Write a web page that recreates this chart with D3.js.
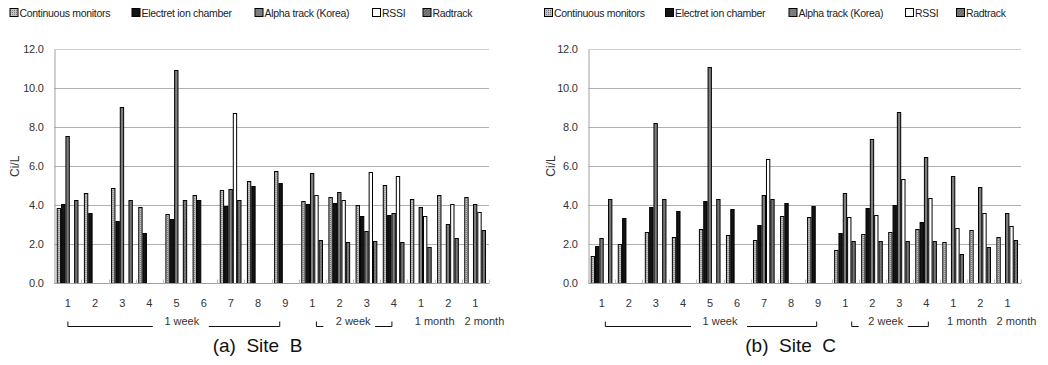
<!DOCTYPE html>
<html>
<head>
<meta charset="utf-8">
<script src="https://cdn.jsdelivr.net/npm/d3@7"></script>
<style>
  body { margin: 0; background: #fff; }
  svg { display: block; font-family: "Liberation Sans", Arial, sans-serif; }
</style>
</head>
<body>
<svg id="chart" width="1048" height="365"></svg>
<script>
// category labels along the x axis (16 measurement slots)
const catLabels = ['1', '2', '3', '4', '5', '6', '7', '8', '9', '1', '2', '3', '4', '1', '2', '1'];
const seriesNames = ['Continuous monitors', 'Electret ion chamber', 'Alpha track (Korea)', 'RSSI', 'Radtrack'];
const yTicks = [0, 2, 4, 6, 8, 10, 12];

// Site B
const siteBCont     = [3.86, 4.62, 4.87, 3.91, 3.56, 4.53, 4.77, 5.26, 5.78, 4.21, 4.43, 4.02, 5.03, 4.31, 4.53, 4.43];
const siteBElectret = [4.07, 3.62, 3.21, 2.56, 3.32, 4.26, 3.97, 4.97, 5.13, 4.07, 4.12, 3.45, 3.50, null, null, null];
const siteBAlpha    = [7.54, null, 9.06, null, 10.92, null, 4.82, null, null, 5.68, 4.67, 2.67, 3.62, 3.90, 3.03, 4.07];
const siteBRssi     = [null, null, null, null, null, null, 8.75, null, null, 4.53, 4.26, 5.73, 5.52, 3.45, 4.07, 3.68];
const siteBRadtrack = [4.26, null, 4.26, null, 4.26, null, 4.26, null, null, 2.21, 2.10, 2.15, 2.10, 1.85, 2.31, 2.72];

// Site C
const siteCCont     = [1.37, 1.99, 2.62, 2.37, 2.74, 2.47, 2.18, 3.41, 3.36, 1.66, 2.52, 2.62, 2.76, 2.07, 2.71, 2.37];
const siteCElectret = [1.89, 3.33, 3.91, 3.67, 4.22, 3.77, 2.95, 4.11, 3.96, 2.57, 3.82, 4.01, 3.12, null, null, null];
const siteCAlpha    = [2.31, null, 8.19, null, 11.11, null, 4.53, null, null, 4.63, 7.39, 8.76, 6.46, 5.47, 4.92, 3.57];
const siteCRssi     = [null, null, null, null, null, null, 6.36, null, null, 3.36, 3.48, 5.31, 4.35, 2.81, 3.57, 2.90];
const siteCRadtrack = [4.30, null, 4.30, null, 4.30, null, 4.30, null, null, 2.13, 2.13, 2.13, 2.13, 1.46, 1.82, 2.18];

const svg = d3.select('#chart');
const defs = svg.append('defs');

// fill patterns for the grey-scale bars
const pCont = defs.append('pattern').attr('id', 'pCont').attr('width', 2).attr('height', 2)
  .attr('patternUnits', 'userSpaceOnUse');
pCont.append('rect').attr('width', 2).attr('height', 2).attr('fill', '#c4c4c4');
pCont.append('rect').attr('width', 1).attr('height', 1).attr('fill', '#7a7a7a');

const pAlpha = defs.append('pattern').attr('id', 'pAlpha').attr('width', 2).attr('height', 2)
  .attr('patternUnits', 'userSpaceOnUse');
pAlpha.append('rect').attr('width', 2).attr('height', 2).attr('fill', '#808080');
pAlpha.append('rect').attr('width', 1).attr('height', 1).attr('fill', '#747474');

const pRad = defs.append('pattern').attr('id', 'pRad').attr('width', 3).attr('height', 3)
  .attr('patternUnits', 'userSpaceOnUse');
pRad.append('rect').attr('width', 3).attr('height', 3).attr('fill', '#6c6c6c');
pRad.append('path').attr('d', 'M0,3L3,0').attr('stroke', '#8a8a8a').attr('stroke-width', 0.8);

const fills = ['url(#pCont)', '#141414', 'url(#pAlpha)', '#ffffff', 'url(#pRad)'];

function drawPanel(cfg) {
  const { left, right, top, bottom, series, title, legendX, yLabelX, bracket } = cfg;

  const x = d3.scaleBand().domain(d3.range(catLabels.length)).range([left, right]).padding(0);
  const step = x.step();
  const inner = d3.scaleBand().domain(d3.range(series.length))
    .range([step * 0.09, step * 0.89]).padding(0);
  const y = d3.scaleLinear().domain([0, 12]).range([bottom, top]);

  // legend
  const lg = svg.append('g').attr('font-size', 10.5).attr('letter-spacing', -0.3).attr('fill', '#222');
  seriesNames.forEach((name, i) => {
    const gx = legendX[i];
    lg.append('rect').attr('x', gx + 0.5).attr('y', 8.5).attr('width', 8).attr('height', 8)
      .attr('fill', fills[i]).attr('stroke', '#000').attr('stroke-width', 1);
    lg.append('text').attr('x', gx + 10).attr('y', 17).text(name);
  });

  // grid lines
  svg.append('g').selectAll('line').data(yTicks.filter(d => d > 0)).join('line')
    .attr('x1', left).attr('x2', right)
    .attr('y1', d => Math.round(y(d)) + 0.5).attr('y2', d => Math.round(y(d)) + 0.5)
    .attr('stroke', d => d === 12 ? '#cfcfcf' : '#b0b0b0').attr('stroke-width', 1);

  // y axis
  const yAxis = svg.append('g').attr('transform', `translate(${Math.round(left) + 0.5},0)`)
    .call(d3.axisLeft(y).tickValues(yTicks).tickFormat(d3.format('.1f')).tickSize(0).tickPadding(11));
  yAxis.select('.domain').attr('stroke', '#a0a0a0');
  yAxis.selectAll('text').attr('font-size', 11).attr('fill', '#333')
    .attr('font-family', '"Liberation Sans", Arial, sans-serif').attr('letter-spacing', -0.3);

  svg.append('text').attr('transform', `translate(${yLabelX},${(top + bottom) / 2}) rotate(-90)`)
    .attr('text-anchor', 'middle').attr('font-size', 12).attr('fill', '#333').text('Ci/L');

  // bars
  const groups = svg.append('g').selectAll('g').data(catLabels.map((c, i) => i)).join('g')
    .attr('transform', i => `translate(${x(i)},0)`);
  groups.selectAll('rect')
    .data(i => series.map((s, k) => ({ k, v: s[i] })).filter(d => d.v != null))
    .join('rect')
    .attr('x', d => inner(d.k) + 0.5)
    .attr('y', d => Math.round(y(d.v)) + 0.5)
    .attr('width', inner.bandwidth() - 1)
    .attr('height', d => Math.round(y(0)) - Math.round(y(d.v)))
    .attr('fill', d => fills[d.k])
    .attr('stroke', '#000').attr('stroke-width', 1);

  // x axis base and small ticks between categories
  const xb = Math.round(bottom) + 0.5;
  svg.append('line').attr('x1', left).attr('x2', right).attr('y1', xb).attr('y2', xb)
    .attr('stroke', '#a0a0a0');
  svg.append('g').selectAll('line').data(d3.range(catLabels.length + 1)).join('line')
    .attr('x1', i => Math.round(left + i * step) + 0.5).attr('x2', i => Math.round(left + i * step) + 0.5)
    .attr('y1', xb).attr('y2', xb - 4).attr('stroke', '#bdbdbd');

  // category labels
  svg.append('g').selectAll('text').data(catLabels.map((c, i) => i)).join('text')
    .attr('x', i => x(i) + step / 2).attr('y', 306.5).attr('text-anchor', 'middle')
    .attr('font-size', 11).attr('fill', '#333').text(i => catLabels[i]);

  // group brackets
  const bg = svg.append('g').attr('stroke', '#111').attr('stroke-width', 1).attr('fill', 'none');
  const tg = svg.append('g').attr('font-size', 11).attr('fill', '#333').attr('text-anchor', 'middle');
  const yTop = 321.5, yLine = 326.5, yText = 325;
  const c = i => x(i) + step / 2;

  // 1 week
  const w1L = c(0) + bracket.w1[0], w1R = c(8) + bracket.w1[1];
  const w1T = (w1L + w1R) / 2 + bracket.w1[2];
  tg.append('text').attr('x', w1T).attr('y', yText).text('1 week');
  bg.append('path').attr('d', `M${w1L},${yTop}V${yLine}H${w1T - 29}M${w1T + 27},${yLine}H${w1R}V${yTop}`);

  // 2 week
  const w2L = c(9) + bracket.w2[0], w2R = c(12) + bracket.w2[1];
  const w2T = (c(9) + c(12)) / 2 + bracket.w2[2];
  tg.append('text').attr('x', w2T).attr('y', yText).text('2 week');
  bg.append('path').attr('d', `M${w2L},${yTop}V${yLine}H${w2L + 7}M${w2T + 22},${yLine}H${w2R}V${yTop}`);

  tg.append('text').attr('x', x(14)).attr('y', yText).text('1 month');
  tg.append('text').attr('x', c(15) + 9).attr('y', yText).text('2 month');

  // panel title
  svg.append('text').attr('x', cfg.titleX).attr('y', 352).attr('text-anchor', 'middle')
    .attr('font-size', 19).attr('fill', '#111').style('white-space', 'pre').text(title);
}

drawPanel({
  left: 54.3, right: 489, top: 49.3, bottom: 283.3,
  series: [siteBCont, siteBElectret, siteBAlpha, siteBRssi, siteBRadtrack],
  title: '(a)  Site  B', titleX: 257.5,
  legendX: [9.5, 131.5, 254.5, 372, 422.5],
  yLabelX: 19,
  bracket: { w1: [0, -5.5, 8], w2: [4, -2, 0] }
});

drawPanel({
  left: 588.3, right: 1021, top: 49.3, bottom: 282.7,
  series: [siteCCont, siteCElectret, siteCAlpha, siteCRssi, siteCRadtrack],
  title: '(b)  Site  C', titleX: 790.7,
  legendX: [544, 665, 788.5, 905, 956],
  yLabelX: 555,
  bracket: { w1: [3.5, -1.5, 9], w2: [6.5, 2, 0] }
});
</script>
</body>
</html>
